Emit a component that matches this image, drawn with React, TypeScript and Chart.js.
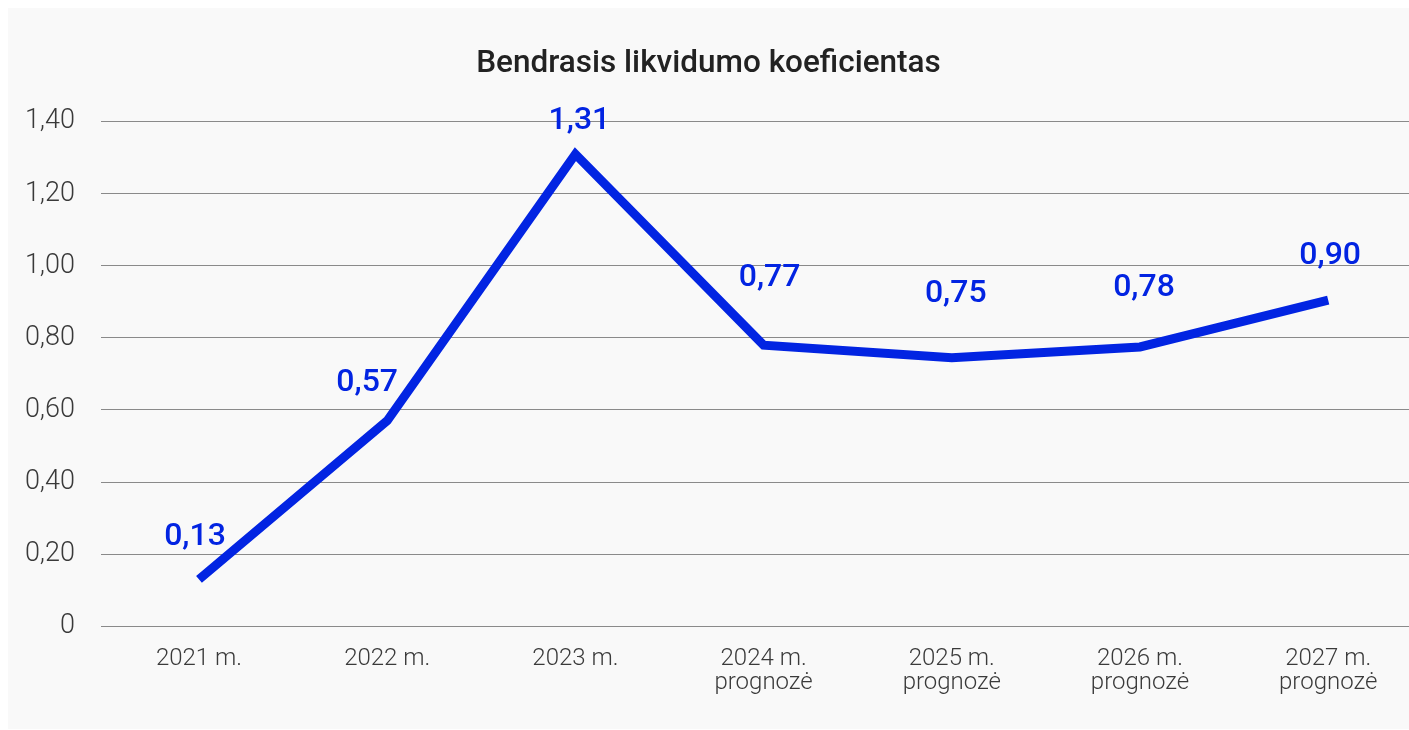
import React, { useEffect, useRef } from "react";
import { Chart, registerables } from "chart.js";

Chart.register(...registerables);

const chartTitle = "Bendrasis likvidumo koeficientas";
const categories: string[][] = [
  ["2021 m."],
  ["2022 m."],
  ["2023 m."],
  ["2024 m.", "prognozė"],
  ["2025 m.", "prognozė"],
  ["2026 m.", "prognozė"],
  ["2027 m.", "prognozė"],
];
const values: number[] = [0.13, 0.57, 1.31, 0.78, 0.745, 0.775, 0.905];
const valueLabels: string[] = ["0,13", "0,57", "1,31", "0,77", "0,75", "0,78", "0,90"];
// label offset from its point, in px [dx, dy]
const labelOffsets: [number, number][] = [
  [-4, -42],
  [-20, -38],
  [4, -33],
  [6, -67],
  [4, -64],
  [4, -59],
  [2, -44],
];
const yMin = 0;
const yMax = 1.4;
const yStep = 0.2;

const BLUE = "rgb(2, 36, 226)";
const FONT = "Roboto, 'Noto Sans', sans-serif";

const valueLabelPlugin = {
  id: "valueLabels",
  afterDatasetsDraw(chart: any) {
    const meta = chart.getDatasetMeta(0);
    const ctx = chart.ctx;
    ctx.save();
    ctx.fillStyle = BLUE;
    ctx.font = `500 32px ${FONT}`;
    ctx.textAlign = "center";
    ctx.textBaseline = "middle";
    meta.data.forEach((pt: any, i: number) => {
      const [dx, dy] = labelOffsets[i];
      ctx.fillText(valueLabels[i], pt.x + dx, pt.y + dy);
    });
    ctx.restore();
  },
};

export default function App() {
  const ref = useRef<HTMLCanvasElement | null>(null);

  useEffect(() => {
    if (!ref.current) return;
    const chart = new Chart(ref.current, {
      type: "line",
      data: {
        datasets: [
          {
            data: values.map((v, i) => ({ x: i, y: v })),
            borderColor: BLUE,
            backgroundColor: BLUE,
            borderWidth: 9,
            pointRadius: 0,
            tension: 0,
            fill: false,
            borderJoinStyle: "miter",
            borderCapStyle: "butt",
          },
        ],
      },
      options: {
        animation: false,
        responsive: false,
        layout: { padding: 0 },
        plugins: {
          legend: { display: false },
          tooltip: { enabled: false },
          title: {
            display: true,
            text: chartTitle,
            color: "#222222",
            font: { family: FONT, size: 31.5, weight: "500", lineHeight: 1.2 },
            padding: { top: 37.3, bottom: 38.6 },
          },
        },
        scales: {
          x: {
            type: "linear",
            min: -0.5207,
            max: 6.4294,
            grid: { display: false, drawTicks: false },
            border: { display: false },
            afterBuildTicks: (scale: any) => {
              scale.ticks = categories.map((_, i) => ({ value: i }));
            },
            afterFit: (scale: any) => {
              scale.height = 102.8;
            },
            ticks: {
              autoSkip: false,
              maxRotation: 0,
              minRotation: 0,
              padding: 21,
              color: "#3a3a3a",
              font: { family: FONT, size: 24, weight: "300", lineHeight: 1.0 },
              callback: (value: any) => categories[Math.round(Number(value))] ?? "",
            },
          },
          y: {
            min: yMin,
            max: yMax,
            grid: { color: "#8a8a8a", lineWidth: 1, drawTicks: false },
            border: { display: false },
            afterFit: (scale: any) => {
              scale.width = 93;
            },
            ticks: {
              stepSize: yStep,
              padding: 26,
              color: "#3a3a3a",
              font: { family: FONT, size: 27, weight: "300" },
              callback: (value: any) =>
                Number(value) === 0 ? "0" : Number(value).toFixed(2).replace(".", ","),
            },
          },
        },
      },
      plugins: [valueLabelPlugin],
    } as any);
    return () => chart.destroy();
  }, []);

  return (
    <div
      style={{
        position: "fixed",
        left: 8,
        top: 8,
        width: 1401,
        height: 721,
        background: "#f9f9f9",
        overflow: "hidden",
      }}
    >
      <canvas ref={ref} width={1401} height={721} style={{ display: "block", width: 1401, height: 721 }} />
    </div>
  );
}
